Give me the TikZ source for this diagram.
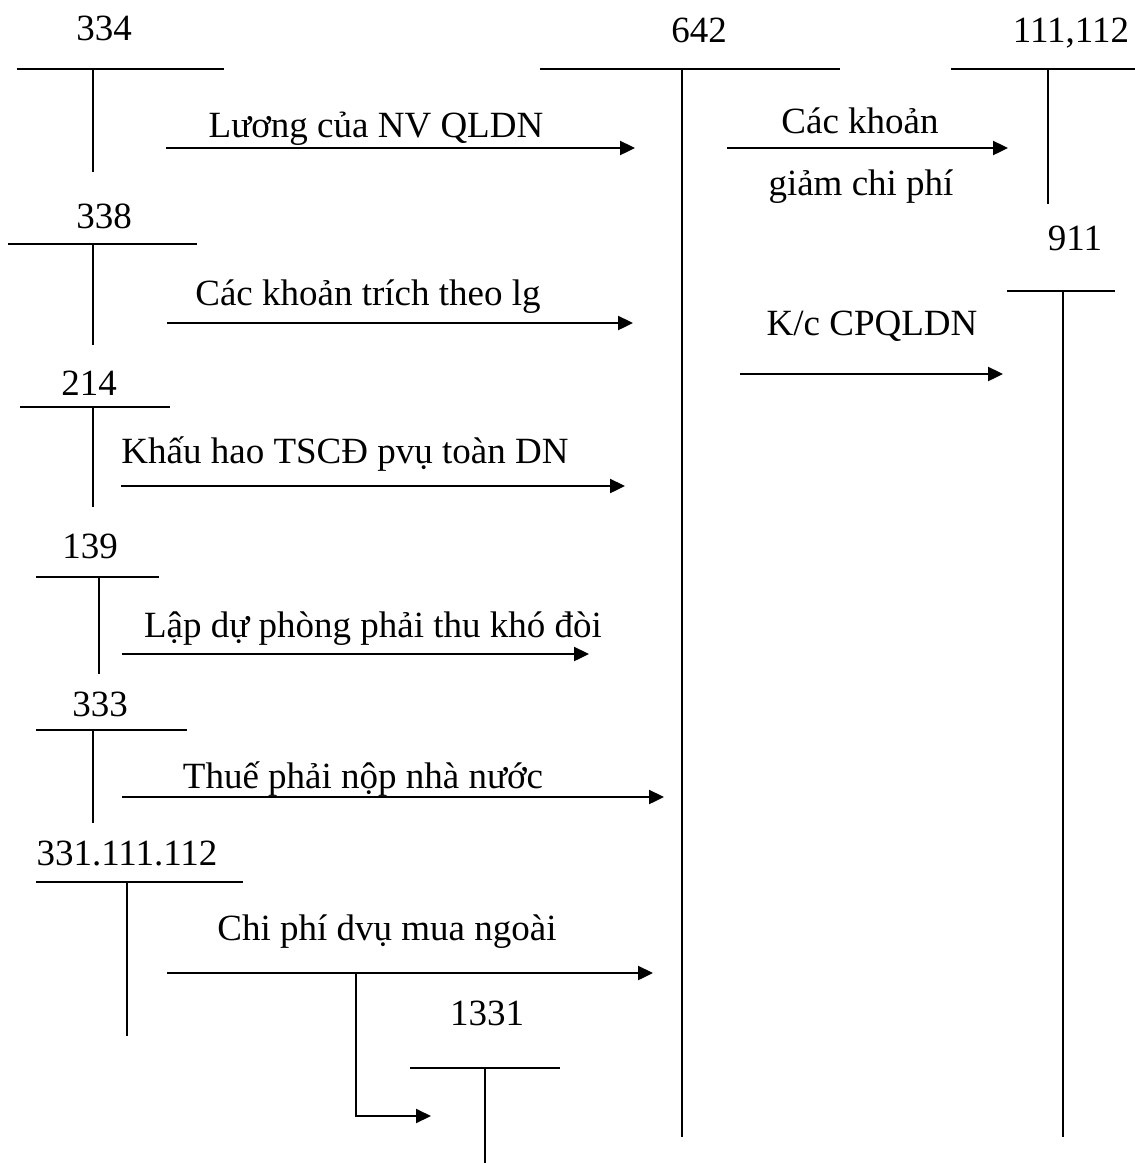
\documentclass[tikz,border=0pt]{standalone}
\usepackage{fontspec}
\setmainfont{Liberation Serif}
\usetikzlibrary{arrows.meta}
\begin{document}
\begin{tikzpicture}[x=1pt,y=-1pt,
  tline/.style={line width=1.8pt},
  flow/.style={line width=2.4pt,-{Triangle[length=15pt,width=14pt]}},
  acc/.style={anchor=base,inner sep=0pt,font=\fontsize{37}{44}\selectfont},
  lbl/.style={anchor=base,inner sep=0pt,font=\fontsize{37}{44}\selectfont}]
\useasboundingbox (0,0) rectangle (1135,1163);

% ---------- T-accounts ----------
% 334
\node[acc] (n334) at (104,40) {334};
\coordinate (h334l) at (17,69);  \coordinate (h334r) at (224,69);
\coordinate (v334t) at (93,69);  \coordinate (v334b) at (93,172);
\draw[tline] (h334l) -- (h334r); \draw[tline] (v334t) -- (v334b);
% 642
\node[acc] (n642) at (699,42) {642};
\coordinate (h642l) at (540,69);  \coordinate (h642r) at (840,69);
\coordinate (v642t) at (682,69);  \coordinate (v642b) at (682,1137);
\draw[tline] (h642l) -- (h642r); \draw[tline] (v642t) -- (v642b);
% 111,112
\node[acc] (n111) at (1071,42) {111,112};
\coordinate (h111l) at (951,69);  \coordinate (h111r) at (1135,69);
\coordinate (v111t) at (1048,69); \coordinate (v111b) at (1048,204);
\draw[tline] (h111l) -- (h111r); \draw[tline] (v111t) -- (v111b);
% 338
\node[acc] (n338) at (104,228) {338};
\coordinate (h338l) at (8,244);   \coordinate (h338r) at (197,244);
\coordinate (v338t) at (93,244);  \coordinate (v338b) at (93,345);
\draw[tline] (h338l) -- (h338r); \draw[tline] (v338t) -- (v338b);
% 911
\node[acc] (n911) at (1075,250) {911};
\coordinate (h911l) at (1007,291); \coordinate (h911r) at (1115,291);
\coordinate (v911t) at (1063,291); \coordinate (v911b) at (1063,1137);
\draw[tline] (h911l) -- (h911r); \draw[tline] (v911t) -- (v911b);
% 214
\node[acc] (n214) at (89,395) {214};
\coordinate (h214l) at (20,407);  \coordinate (h214r) at (170,407);
\coordinate (v214t) at (93,407);  \coordinate (v214b) at (93,507);
\draw[tline] (h214l) -- (h214r); \draw[tline] (v214t) -- (v214b);
% 139
\node[acc] (n139) at (90,558) {139};
\coordinate (h139l) at (36,577);  \coordinate (h139r) at (159,577);
\coordinate (v139t) at (99,577);  \coordinate (v139b) at (99,674);
\draw[tline] (h139l) -- (h139r); \draw[tline] (v139t) -- (v139b);
% 333
\node[acc] (n333) at (100,716) {333};
\coordinate (h333l) at (36,730);  \coordinate (h333r) at (187,730);
\coordinate (v333t) at (93,730);  \coordinate (v333b) at (93,823);
\draw[tline] (h333l) -- (h333r); \draw[tline] (v333t) -- (v333b);
% 331.111.112
\node[acc] (n331) at (127,865) {331.111.112};
\coordinate (h331l) at (36,882);  \coordinate (h331r) at (243,882);
\coordinate (v331t) at (127,882); \coordinate (v331b) at (127,1036);
\draw[tline] (h331l) -- (h331r); \draw[tline] (v331t) -- (v331b);
% 1331
\node[acc] (n1331) at (487,1025) {1331};
\coordinate (h1331l) at (410,1068); \coordinate (h1331r) at (560,1068);
\coordinate (v1331t) at (485,1068); \coordinate (v1331b) at (485,1163);
\draw[tline] (h1331l) -- (h1331r); \draw[tline] (v1331t) -- (v1331b);

% ---------- flows ----------
\node[lbl] (t1) at (376,137) {Lương của NV QLDN};
\coordinate (f1s) at (166,148); \coordinate (f1e) at (635,148);
\draw[flow] (f1s) -- (f1e);

\node[lbl] (t2) at (368,305) {Các khoản trích theo lg};
\coordinate (f2s) at (167,323); \coordinate (f2e) at (633,323);
\draw[flow] (f2s) -- (f2e);

\node[lbl] (t3) at (345,463) {Khấu hao TSCĐ pvụ toàn DN};
\coordinate (f3s) at (121,486); \coordinate (f3e) at (625,486);
\draw[flow] (f3s) -- (f3e);

\node[lbl] (t4) at (373,637) {Lập dự phòng phải thu khó đòi};
\coordinate (f4s) at (122,654); \coordinate (f4e) at (589,654);
\draw[flow] (f4s) -- (f4e);

\node[lbl] (t5) at (363,788) {Thuế phải nộp nhà nước};
\coordinate (f5s) at (122,797); \coordinate (f5e) at (664,797);
\draw[flow] (f5s) -- (f5e);

\node[lbl] (t6) at (387,940) {Chi phí dvụ mua ngoài};
\coordinate (f6s) at (167,973); \coordinate (f6e) at (653,973);
\draw[flow] (f6s) -- (f6e);
\coordinate (br0) at (356,973); \coordinate (br1) at (356,1116); \coordinate (br2) at (431,1116);
\draw[flow,line width=2pt] (br0) -- (br1) -- (br2);

\node[lbl] (t7a) at (860,133) {Các khoản};
\node[lbl] (t7b) at (861,195) {giảm chi phí};
\coordinate (f7s) at (727,148); \coordinate (f7e) at (1008,148);
\draw[flow] (f7s) -- (f7e);

\node[lbl] (t8) at (872,335) {K/c CPQLDN};
\coordinate (f8s) at (740,374); \coordinate (f8e) at (1003,374);
\draw[flow] (f8s) -- (f8e);
\end{tikzpicture}
\end{document}
